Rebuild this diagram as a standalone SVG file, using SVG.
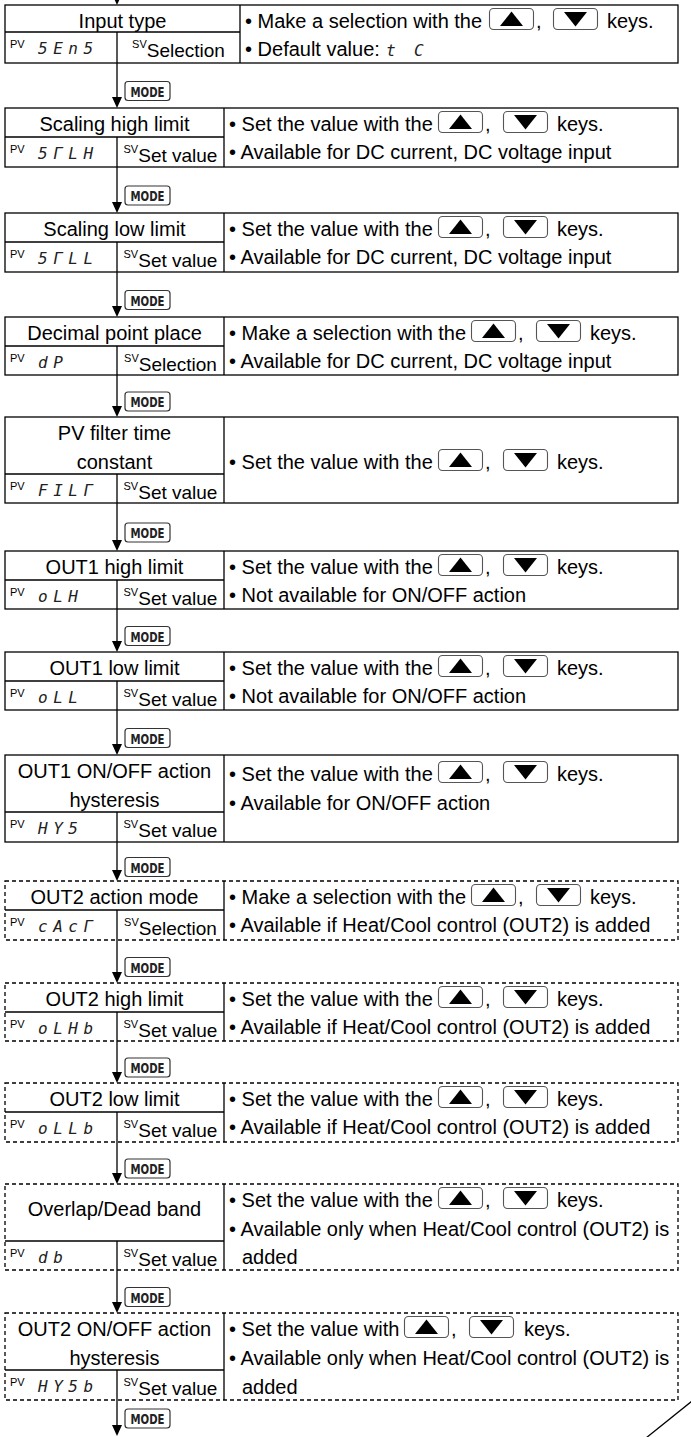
<svg xmlns="http://www.w3.org/2000/svg" width="691" height="1437" viewBox="0 0 691 1437">
<defs>
<style>
.t{font-family:"Liberation Sans",Arial,sans-serif;font-size:20px;fill:#000}
.c{text-anchor:middle}
.sv{font-size:19px}
.sup{font-size:11px}
.seg{font-family:"DejaVu Sans Mono",monospace;font-size:16px;font-style:italic;letter-spacing:5.5px;fill:#222}
.mk{font-family:"DejaVu Sans Condensed","DejaVu Sans",sans-serif;font-weight:bold;font-size:14px;fill:#222;text-anchor:middle}
.bx{fill:none;stroke:#000;stroke-width:1.3}
.ds{stroke-dasharray:4 3}
.ln{stroke:#000;stroke-width:1.3;fill:none}
.key{fill:#fff;stroke:#555;stroke-width:1.1}
.mr{fill:#fff;stroke:#333;stroke-width:1.2}
.ah{fill:#000}
</style>
<g id="ku"><rect class="key" x="0.5" y="0.5" width="44" height="21" rx="4"/><polygon points="11,18 34,18 22.5,3.5"/></g>
<g id="kd"><rect class="key" x="0.5" y="0.5" width="44" height="21" rx="4"/><polygon points="11,4 34,4 22.5,18.5"/></g>
</defs>
<rect width="691" height="1437" fill="#fff"/>

<g id="connectors">
<polygon class="ah" points="112,-6 122,-6 117,5"/>
<path class="ln" d="M117 63V98M117 167V203M117 272V307M117 375V407M117 503V541M117 609V642M117 710V745M117 842V871M117 940V973M117 1041V1073M117 1142V1174M117 1270V1303M117 1400V1426"/>
<polygon class="ah" points="112,97 122,97 117,108"/>
<polygon class="ah" points="112,202 122,202 117,213"/>
<polygon class="ah" points="112,306 122,306 117,317"/>
<polygon class="ah" points="112,406 122,406 117,417"/>
<polygon class="ah" points="112,540 122,540 117,551"/>
<polygon class="ah" points="112,641 122,641 117,652"/>
<polygon class="ah" points="112,744 122,744 117,755"/>
<polygon class="ah" points="112,870 122,870 117,881"/>
<polygon class="ah" points="112,972 122,972 117,983"/>
<polygon class="ah" points="112,1072 122,1072 117,1083"/>
<polygon class="ah" points="112,1173 122,1173 117,1184"/>
<polygon class="ah" points="112,1302 122,1302 117,1313"/>
<polygon class="ah" points="112,1425 122,1425 117,1436"/>
<g id="mode-labels">
<rect class="mr" x="125" y="81.5" width="45" height="19" rx="3"/><text class="mk" x="147.5" y="96.5" textLength="34" lengthAdjust="spacingAndGlyphs">MODE</text>
<rect class="mr" x="125" y="186" width="45" height="19" rx="3"/><text class="mk" x="147.5" y="201" textLength="34" lengthAdjust="spacingAndGlyphs">MODE</text>
<rect class="mr" x="125" y="290.5" width="45" height="19" rx="3"/><text class="mk" x="147.5" y="305.5" textLength="34" lengthAdjust="spacingAndGlyphs">MODE</text>
<rect class="mr" x="125" y="392" width="45" height="19" rx="3"/><text class="mk" x="147.5" y="407" textLength="34" lengthAdjust="spacingAndGlyphs">MODE</text>
<rect class="mr" x="125" y="523" width="45" height="19" rx="3"/><text class="mk" x="147.5" y="538" textLength="34" lengthAdjust="spacingAndGlyphs">MODE</text>
<rect class="mr" x="125" y="626.5" width="45" height="19" rx="3"/><text class="mk" x="147.5" y="641.5" textLength="34" lengthAdjust="spacingAndGlyphs">MODE</text>
<rect class="mr" x="125" y="728.5" width="45" height="19" rx="3"/><text class="mk" x="147.5" y="743.5" textLength="34" lengthAdjust="spacingAndGlyphs">MODE</text>
<rect class="mr" x="125" y="857.5" width="45" height="19" rx="3"/><text class="mk" x="147.5" y="872.5" textLength="34" lengthAdjust="spacingAndGlyphs">MODE</text>
<rect class="mr" x="125" y="957.5" width="45" height="19" rx="3"/><text class="mk" x="147.5" y="972.5" textLength="34" lengthAdjust="spacingAndGlyphs">MODE</text>
<rect class="mr" x="125" y="1058" width="45" height="19" rx="3"/><text class="mk" x="147.5" y="1073" textLength="34" lengthAdjust="spacingAndGlyphs">MODE</text>
<rect class="mr" x="125" y="1159" width="45" height="19" rx="3"/><text class="mk" x="147.5" y="1174" textLength="34" lengthAdjust="spacingAndGlyphs">MODE</text>
<rect class="mr" x="125" y="1287.5" width="45" height="19" rx="3"/><text class="mk" x="147.5" y="1302.5" textLength="34" lengthAdjust="spacingAndGlyphs">MODE</text>
<rect class="mr" x="125" y="1409" width="45" height="19" rx="3"/><text class="mk" x="147.5" y="1424" textLength="34" lengthAdjust="spacingAndGlyphs">MODE</text>
</g>
<path class="ln" d="M692 1401L646 1438"/>
</g>

<g id="n1">
<rect class="bx" x="5" y="5" width="673" height="58"/>
<path class="ln" d="M240 5V63M5 32H240M117 32V63"/>
<text class="t c" x="122.5" y="28">Input type</text>
<text class="t sup" x="10" y="48">PV</text>
<text class="seg" x="38" y="54">5En5</text>
<text class="t c sv" x="178.5" y="57"><tspan class="sup" dy="-9">SV</tspan><tspan dy="9">Selection</tspan></text>
<text class="t" y="28"><tspan x="245">• Make a selection with the</tspan><tspan x="536">,</tspan><tspan x="607">keys.</tspan></text>
<use href="#ku" x="489" y="8"/><use href="#kd" x="553" y="8"/>
<text class="t" x="245" y="56">• Default value:</text>
<text class="seg" y="56"><tspan x="386">t</tspan><tspan x="414">C</tspan></text>
</g>

<g id="n2">
<rect class="bx" x="5" y="108" width="673" height="59"/>
<path class="ln" d="M224 108V167M5 137H224M117 137V167"/>
<text class="t c" x="114.5" y="131">Scaling high limit</text>
<text class="t sup" x="10" y="153">PV</text>
<text class="seg" x="38" y="159">5ΓLH</text>
<text class="t c sv" x="170.5" y="162"><tspan class="sup" dy="-9">SV</tspan><tspan dy="9">Set value</tspan></text>
<text class="t" y="131"><tspan x="229">• Set the value with the</tspan><tspan x="485">,</tspan><tspan x="557">keys.</tspan></text>
<use href="#ku" x="438" y="111"/><use href="#kd" x="503" y="111"/>
<text class="t" x="229" y="159">• Available for DC current, DC voltage input</text>
</g>

<g id="n3">
<rect class="bx" x="5" y="213" width="673" height="59"/>
<path class="ln" d="M224 213V272M5 242H224M117 242V272"/>
<text class="t c" x="114.5" y="236">Scaling low limit</text>
<text class="t sup" x="10" y="258">PV</text>
<text class="seg" x="38" y="264">5ΓLL</text>
<text class="t c sv" x="170.5" y="267"><tspan class="sup" dy="-9">SV</tspan><tspan dy="9">Set value</tspan></text>
<text class="t" y="236"><tspan x="229">• Set the value with the</tspan><tspan x="485">,</tspan><tspan x="557">keys.</tspan></text>
<use href="#ku" x="438" y="216"/><use href="#kd" x="503" y="216"/>
<text class="t" x="229" y="264">• Available for DC current, DC voltage input</text>
</g>

<g id="n4">
<rect class="bx" x="5" y="317" width="673" height="58"/>
<path class="ln" d="M224 317V375M5 346H224M117 346V375"/>
<text class="t c" x="114.5" y="340">Decimal point place</text>
<text class="t sup" x="10" y="362">PV</text>
<text class="seg" x="38" y="368">dP</text>
<text class="t c sv" x="170.5" y="371"><tspan class="sup" dy="-9">SV</tspan><tspan dy="9">Selection</tspan></text>
<text class="t" y="340"><tspan x="229">• Make a selection with the</tspan><tspan x="518">,</tspan><tspan x="590">keys.</tspan></text>
<use href="#ku" x="471" y="320"/><use href="#kd" x="536" y="320"/>
<text class="t" x="229" y="368">• Available for DC current, DC voltage input</text>
</g>

<g id="n5">
<rect class="bx" x="5" y="417" width="673" height="86"/>
<path class="ln" d="M224 417V503M5 474H224M117 474V503"/>
<text class="t c" x="114.5" y="440">PV filter time</text>
<text class="t c" x="114.5" y="469">constant</text>
<text class="t sup" x="10" y="490">PV</text>
<text class="seg" x="38" y="496">FILΓ</text>
<text class="t c sv" x="170.5" y="499"><tspan class="sup" dy="-9">SV</tspan><tspan dy="9">Set value</tspan></text>
<text class="t" y="469"><tspan x="229">• Set the value with the</tspan><tspan x="485">,</tspan><tspan x="557">keys.</tspan></text>
<use href="#ku" x="438" y="449"/><use href="#kd" x="503" y="449"/>
</g>

<g id="n6">
<rect class="bx" x="5" y="551" width="673" height="58"/>
<path class="ln" d="M224 551V609M5 580H224M117 580V609"/>
<text class="t c" x="114.5" y="574">OUT1 high limit</text>
<text class="t sup" x="10" y="596">PV</text>
<text class="seg" x="38" y="602">oLH</text>
<text class="t c sv" x="170.5" y="605"><tspan class="sup" dy="-9">SV</tspan><tspan dy="9">Set value</tspan></text>
<text class="t" y="574"><tspan x="229">• Set the value with the</tspan><tspan x="485">,</tspan><tspan x="557">keys.</tspan></text>
<use href="#ku" x="438" y="554"/><use href="#kd" x="503" y="554"/>
<text class="t" x="229" y="602">• Not available for ON/OFF action</text>
</g>

<g id="n7">
<rect class="bx" x="5" y="652" width="673" height="58"/>
<path class="ln" d="M224 652V710M5 681H224M117 681V710"/>
<text class="t c" x="114.5" y="675">OUT1 low limit</text>
<text class="t sup" x="10" y="697">PV</text>
<text class="seg" x="38" y="703">oLL</text>
<text class="t c sv" x="170.5" y="706"><tspan class="sup" dy="-9">SV</tspan><tspan dy="9">Set value</tspan></text>
<text class="t" y="675"><tspan x="229">• Set the value with the</tspan><tspan x="485">,</tspan><tspan x="557">keys.</tspan></text>
<use href="#ku" x="438" y="655"/><use href="#kd" x="503" y="655"/>
<text class="t" x="229" y="703">• Not available for ON/OFF action</text>
</g>

<g id="n8">
<rect class="bx" x="5" y="755" width="673" height="87"/>
<path class="ln" d="M224 755V842M5 812H224M117 812V842"/>
<text class="t c" x="114.5" y="778">OUT1 ON/OFF action</text>
<text class="t c" x="114.5" y="807">hysteresis</text>
<text class="t sup" x="10" y="828">PV</text>
<text class="seg" x="38" y="834">HY5</text>
<text class="t c sv" x="170.5" y="837"><tspan class="sup" dy="-9">SV</tspan><tspan dy="9">Set value</tspan></text>
<text class="t" y="781"><tspan x="229">• Set the value with the</tspan><tspan x="485">,</tspan><tspan x="557">keys.</tspan></text>
<use href="#ku" x="438" y="761"/><use href="#kd" x="503" y="761"/>
<text class="t" x="229" y="810">• Available for ON/OFF action</text>
</g>

<g id="n9">
<rect class="bx ds" x="5" y="881" width="673" height="59"/>
<path class="ln" d="M224 881V940M5 910H224M117 910V940"/>
<text class="t c" x="114.5" y="904">OUT2 action mode</text>
<text class="t sup" x="10" y="926">PV</text>
<text class="seg" x="38" y="932">cAcΓ</text>
<text class="t c sv" x="170.5" y="935"><tspan class="sup" dy="-9">SV</tspan><tspan dy="9">Selection</tspan></text>
<text class="t" y="904"><tspan x="229">• Make a selection with the</tspan><tspan x="518">,</tspan><tspan x="590">keys.</tspan></text>
<use href="#ku" x="471" y="884"/><use href="#kd" x="536" y="884"/>
<text class="t" x="229" y="932">• Available if Heat/Cool control (OUT2) is added</text>
</g>

<g id="n10">
<rect class="bx ds" x="5" y="983" width="673" height="58"/>
<path class="ln" d="M224 983V1041M5 1012H224M117 1012V1041"/>
<text class="t c" x="114.5" y="1006">OUT2 high limit</text>
<text class="t sup" x="10" y="1028">PV</text>
<text class="seg" x="38" y="1034">oLHb</text>
<text class="t c sv" x="170.5" y="1037"><tspan class="sup" dy="-9">SV</tspan><tspan dy="9">Set value</tspan></text>
<text class="t" y="1006"><tspan x="229">• Set the value with the</tspan><tspan x="485">,</tspan><tspan x="557">keys.</tspan></text>
<use href="#ku" x="438" y="986"/><use href="#kd" x="503" y="986"/>
<text class="t" x="229" y="1034">• Available if Heat/Cool control (OUT2) is added</text>
</g>

<g id="n11">
<rect class="bx ds" x="5" y="1083" width="673" height="59"/>
<path class="ln" d="M224 1083V1142M5 1112H224M117 1112V1142"/>
<text class="t c" x="114.5" y="1106">OUT2 low limit</text>
<text class="t sup" x="10" y="1128">PV</text>
<text class="seg" x="38" y="1134">oLLb</text>
<text class="t c sv" x="170.5" y="1137"><tspan class="sup" dy="-9">SV</tspan><tspan dy="9">Set value</tspan></text>
<text class="t" y="1106"><tspan x="229">• Set the value with the</tspan><tspan x="485">,</tspan><tspan x="557">keys.</tspan></text>
<use href="#ku" x="438" y="1086"/><use href="#kd" x="503" y="1086"/>
<text class="t" x="229" y="1134">• Available if Heat/Cool control (OUT2) is added</text>
</g>

<g id="n12">
<rect class="bx ds" x="5" y="1184" width="673" height="86"/>
<path class="ln" d="M224 1184V1270M5 1241H224M117 1241V1270"/>
<text class="t c" x="114.5" y="1216">Overlap/Dead band</text>
<text class="t sup" x="10" y="1257">PV</text>
<text class="seg" x="38" y="1263">db</text>
<text class="t c sv" x="170.5" y="1266"><tspan class="sup" dy="-9">SV</tspan><tspan dy="9">Set value</tspan></text>
<text class="t" y="1207"><tspan x="229">• Set the value with the</tspan><tspan x="485">,</tspan><tspan x="557">keys.</tspan></text>
<use href="#ku" x="438" y="1187"/><use href="#kd" x="503" y="1187"/>
<text class="t" x="229" y="1236">• Available only when Heat/Cool control (OUT2) is</text>
<text class="t" x="242" y="1264">added</text>
</g>

<g id="n13">
<rect class="bx ds" x="5" y="1313" width="673" height="87"/>
<path class="ln" d="M224 1313V1400M5 1370H224M117 1370V1400"/>
<text class="t c" x="114.5" y="1336">OUT2 ON/OFF action</text>
<text class="t c" x="114.5" y="1365">hysteresis</text>
<text class="t sup" x="10" y="1386">PV</text>
<text class="seg" x="38" y="1392">HY5b</text>
<text class="t c sv" x="170.5" y="1395"><tspan class="sup" dy="-9">SV</tspan><tspan dy="9">Set value</tspan></text>
<text class="t" y="1336"><tspan x="229">• Set the value with</tspan><tspan x="451">,</tspan><tspan x="524">keys.</tspan></text>
<use href="#ku" x="404" y="1316"/><use href="#kd" x="469" y="1316"/>
<text class="t" x="229" y="1365">• Available only when Heat/Cool control (OUT2) is</text>
<text class="t" x="242" y="1394">added</text>
</g>
</svg>
